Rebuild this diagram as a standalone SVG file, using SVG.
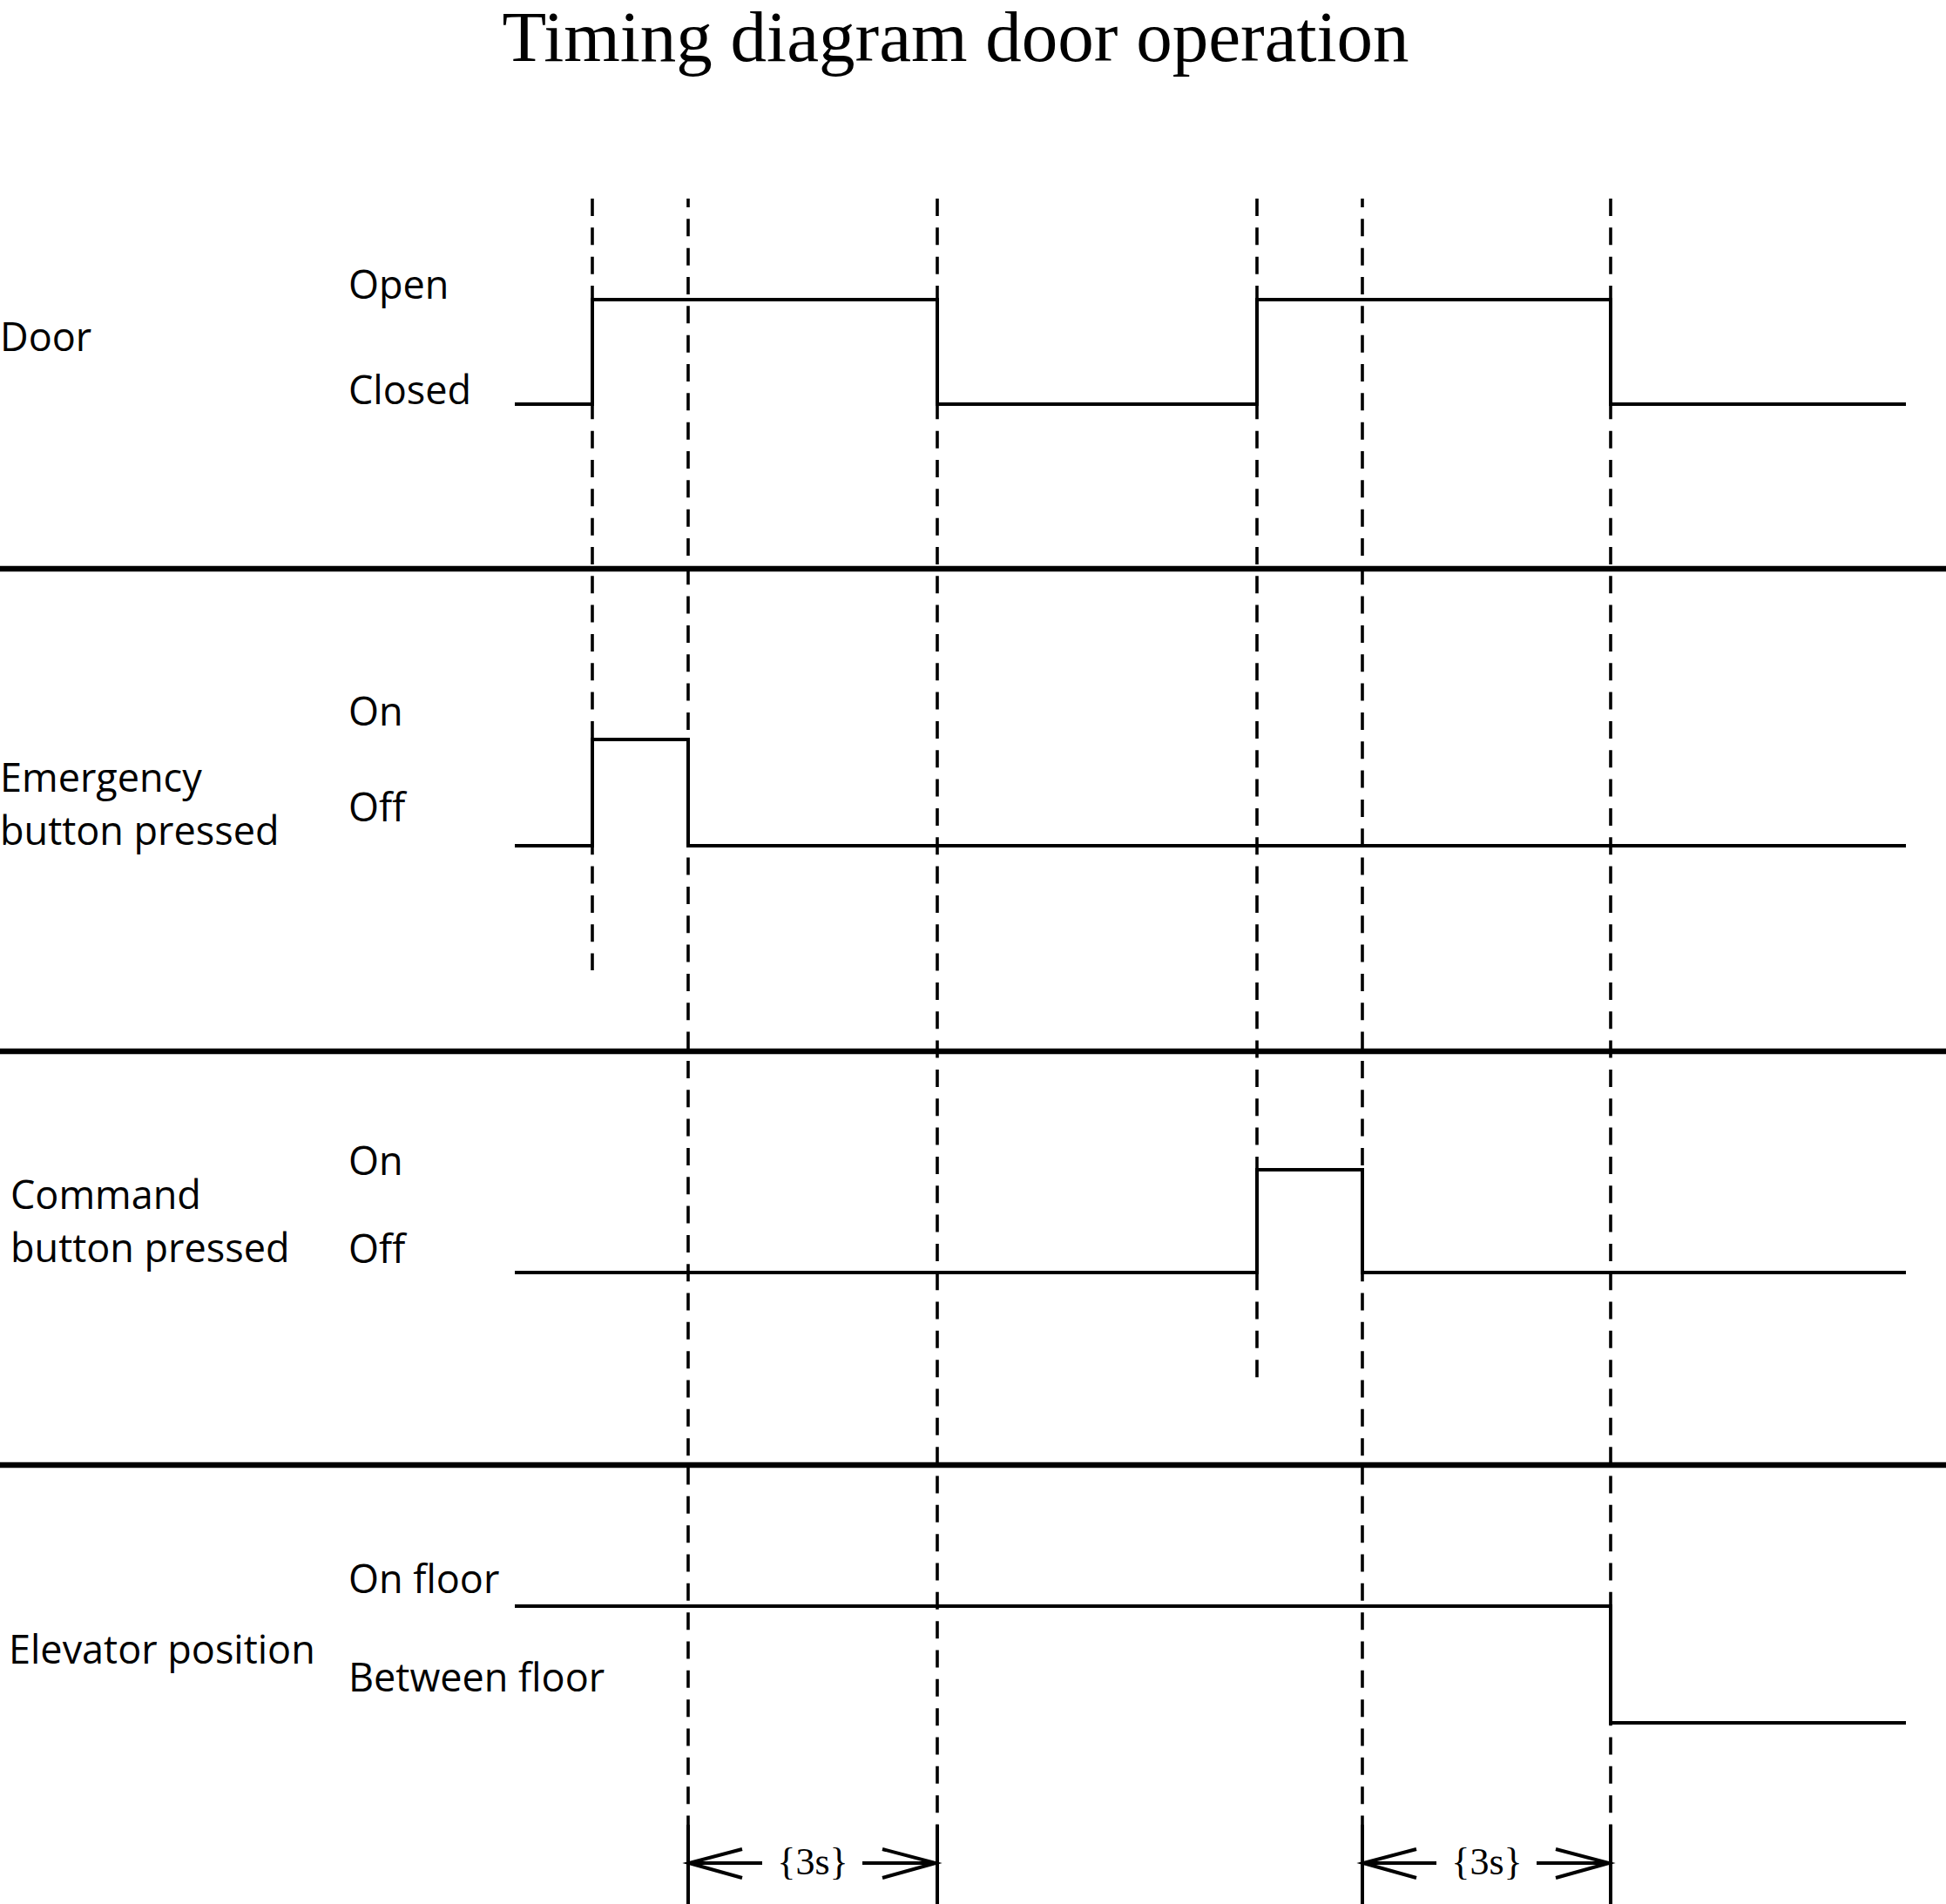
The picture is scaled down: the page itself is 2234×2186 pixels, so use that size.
<svg xmlns="http://www.w3.org/2000/svg" width="2234" height="2186" viewBox="0 0 2234 2186">
  <style>
    .lbl { font-family: "Open Sans", "Noto Sans", "Liberation Sans", sans-serif; font-size: 45px; fill: #000; }
    .title { font-family: "Liberation Serif", "Times New Roman", serif; font-size: 83px; fill: #000; }
    .dim { font-family: "Liberation Serif", "Times New Roman", serif; font-size: 44px; fill: #000; }
    .wave { fill: none; stroke: #000; stroke-width: 4; stroke-linejoin: miter; stroke-linecap: butt; }
    .sep { stroke: #000; stroke-width: 6.5; }
    .mark { fill: none; stroke: #000; stroke-width: 3.6; stroke-dasharray: 20 13.33; }
    .ext { stroke: #000; stroke-width: 4; }
    .arrow { fill: none; stroke: #000; stroke-width: 4; }
  </style>
  <rect width="2234" height="2186" fill="#fff"/>

  <text class="title" x="1097" y="70" text-anchor="middle">Timing diagram door operation</text>

  <!-- lane separators -->
  <g id="separators">
    <line class="sep" x1="0" y1="653" x2="2234" y2="653"/>
    <line class="sep" x1="0" y1="1207" x2="2234" y2="1207"/>
    <line class="sep" x1="0" y1="1682" x2="2234" y2="1682"/>
  </g>

  <!-- door lane -->
  <g id="door">
    <text class="lbl" x="0" y="403">Door</text>
    <text class="lbl" x="400" y="343">Open</text>
    <text class="lbl" x="400" y="464">Closed</text>
    <path class="wave" d="M591 464 H680 V344 H1076 V464 H1443 V344 H1849 V464 H2188"/>
  </g>

  <!-- emergency button lane -->
  <g id="emergency">
    <text class="lbl" x="0" y="909">Emergency</text>
    <text class="lbl" x="0" y="970">button pressed</text>
    <text class="lbl" x="400" y="833">On</text>
    <text class="lbl" x="400" y="943">Off</text>
    <path class="wave" d="M591 971 H680 V849 H790 V971 H2188"/>
  </g>

  <!-- command button lane -->
  <g id="command">
    <text class="lbl" x="12" y="1388">Command</text>
    <text class="lbl" x="12" y="1449">button pressed</text>
    <text class="lbl" x="400" y="1349">On</text>
    <text class="lbl" x="400" y="1450">Off</text>
    <path class="wave" d="M591 1461 H1443 V1343 H1564 V1461 H2188"/>
  </g>

  <!-- elevator position lane -->
  <g id="elevator">
    <text class="lbl" x="10" y="1910">Elevator position</text>
    <text class="lbl" x="400" y="1829">On floor</text>
    <text class="lbl" x="400" y="1942">Between floor</text>
    <path class="wave" d="M591 1844 H1849 V1978 H2188"/>
  </g>

  <!-- time markers and delay dimensions -->
  <g id="connectors">
    <line class="mark" x1="680" y1="228" x2="680" y2="1114"/>
    <line class="mark" x1="790" y1="228" x2="790" y2="2095" stroke-dashoffset="10"/>
    <line class="mark" x1="1076" y1="228" x2="1076" y2="2095"/>
    <line class="mark" x1="1443" y1="228" x2="1443" y2="1585"/>
    <line class="mark" x1="1564" y1="228" x2="1564" y2="2095" stroke-dashoffset="10"/>
    <line class="mark" x1="1849" y1="228" x2="1849" y2="2095"/>

    <line class="ext" x1="790" y1="2095" x2="790" y2="2186"/>
    <line class="ext" x1="1076" y1="2095" x2="1076" y2="2186"/>
    <line class="ext" x1="1564" y1="2095" x2="1564" y2="2186"/>
    <line class="ext" x1="1849" y1="2095" x2="1849" y2="2186"/>

    <g id="delay-1">
      <line class="arrow" x1="790" y1="2139" x2="875" y2="2139"/>
      <polyline class="arrow" points="852,2123 791,2139 852,2156"/>
      <line class="arrow" x1="990" y1="2139" x2="1076" y2="2139"/>
      <polyline class="arrow" points="1013,2123 1074,2139 1013,2156"/>
      <text class="dim" x="933" y="2152" text-anchor="middle">{3s}</text>
    </g>
    <g id="delay-2">
      <line class="arrow" x1="1564" y1="2139" x2="1649" y2="2139"/>
      <polyline class="arrow" points="1626,2123 1565,2139 1626,2156"/>
      <line class="arrow" x1="1764" y1="2139" x2="1849" y2="2139"/>
      <polyline class="arrow" points="1786,2123 1847,2139 1786,2156"/>
      <text class="dim" x="1707" y="2152" text-anchor="middle">{3s}</text>
    </g>
  </g>
</svg>
